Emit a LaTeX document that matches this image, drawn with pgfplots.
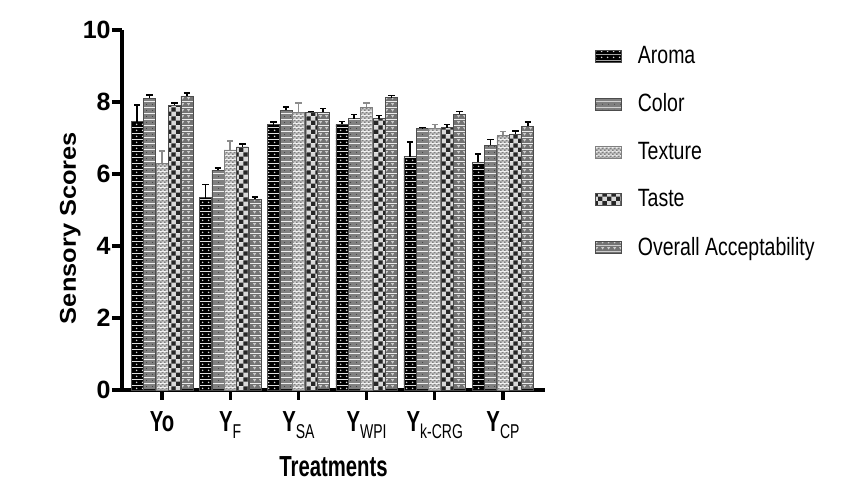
\documentclass[border=0pt]{standalone}
\usepackage{pgfplots}
\pgfplotsset{compat=1.18}
\usepackage{pgfplotstable}
\usepackage{fontspec}
\usetikzlibrary{patterns}
\setmainfont{Liberation Sans}
\newfontfamily\narrowfont{Liberation Sans}[FakeStretch=0.70]
\newfontfamily\legfont{Liberation Sans}[FakeStretch=0.78]

% inherently coloured patterns
\pgfdeclarepatterninherentlycolored{aroma}{\pgfpointorigin}{\pgfpoint{2.8pt}{2.8pt}}{\pgfpoint{2.8pt}{2.8pt}}{%
  \pgfsetfillcolor{black}\pgfpathrectangle{\pgfpointorigin}{\pgfpoint{2.8pt}{2.8pt}}\pgfusepath{fill}%
  \pgfsetfillcolor{white!85!black}\pgfpathcircle{\pgfpoint{1.4pt}{1.4pt}}{0.45pt}\pgfusepath{fill}}
\pgfdeclarepatterninherentlycolored{colorp}{\pgfpointorigin}{\pgfpoint{3pt}{3pt}}{\pgfpoint{3pt}{3pt}}{%
  \pgfsetfillcolor{black!50}\pgfpathrectangle{\pgfpointorigin}{\pgfpoint{3pt}{3pt}}\pgfusepath{fill}%
  \pgfsetfillcolor{black!75}\pgfpathcircle{\pgfpoint{1.5pt}{1.5pt}}{0.3pt}\pgfusepath{fill}}
\pgfdeclarepatterninherentlycolored{texturep}{\pgfpointorigin}{\pgfpoint{2pt}{2pt}}{\pgfpoint{2pt}{2pt}}{%
  \pgfsetfillcolor{black!18}\pgfpathrectangle{\pgfpointorigin}{\pgfpoint{2pt}{2pt}}\pgfusepath{fill}%
  \pgfsetfillcolor{black!50}\pgfpathrectangle{\pgfpointorigin}{\pgfpoint{1pt}{1pt}}\pgfusepath{fill}%
  \pgfpathrectangle{\pgfpoint{1pt}{1pt}}{\pgfpoint{1pt}{1pt}}\pgfusepath{fill}}
\pgfdeclarepatterninherentlycolored{tastep}{\pgfpointorigin}{\pgfpoint{4.4pt}{4.4pt}}{\pgfpoint{4.4pt}{4.4pt}}{%
  \pgfsetfillcolor{black!15}\pgfpathrectangle{\pgfpointorigin}{\pgfpoint{4.4pt}{4.4pt}}\pgfusepath{fill}%
  \pgfsetfillcolor{black!85}\pgfpathrectangle{\pgfpointorigin}{\pgfpoint{2.2pt}{2.2pt}}\pgfusepath{fill}%
  \pgfpathrectangle{\pgfpoint{2.2pt}{2.2pt}}{\pgfpoint{2.2pt}{2.2pt}}\pgfusepath{fill}}
\pgfdeclarepatterninherentlycolored{oap}{\pgfpointorigin}{\pgfpoint{3pt}{3pt}}{\pgfpoint{3pt}{3pt}}{%
  \pgfsetfillcolor{black!55}\pgfpathrectangle{\pgfpointorigin}{\pgfpoint{3pt}{3pt}}\pgfusepath{fill}%
  \pgfsetfillcolor{black!20}\pgfpathmoveto{\pgfpoint{0.6pt}{2.2pt}}\pgfpathlineto{\pgfpoint{2.4pt}{2.2pt}}\pgfpathlineto{\pgfpoint{1.5pt}{0.8pt}}\pgfpathclose\pgfusepath{fill}}

\newcommand{\sbs}[1]{\raisebox{-3.5pt}{\mdseries\fontsize{10pt}{10pt}\selectfont #1}}

\pgfplotstableread{
x y e
0 7.45 0.46
1 5.34 0.37
2 7.37 0.08
3 7.38 0.08
4 6.48 0.41
5 6.33 0.22
}\tabAroma
\pgfplotstableread{
x y e
0 8.11 0.09
1 6.11 0.06
2 7.77 0.09
3 7.54 0.11
4 7.26 0.03
5 6.80 0.16
}\tabColor
\pgfplotstableread{
x y e
0 6.30 0.34
1 6.67 0.25
2 7.71 0.26
3 7.86 0.11
4 7.26 0.11
5 7.08 0.10
}\tabTexture
\pgfplotstableread{
x y e
0 7.91 0.06
1 6.75 0.09
2 7.71 0.03
3 7.54 0.08
4 7.29 0.08
5 7.10 0.10
}\tabTaste
\pgfplotstableread{
x y e
0 8.17 0.08
1 5.30 0.06
2 7.71 0.11
3 8.12 0.06
4 7.66 0.08
5 7.33 0.12
}\tabOA

\begin{document}
\begin{tikzpicture}
\path[use as bounding box] (-61pt,-50.5pt) rectangle (370pt,195pt);
\begin{axis}[
  at={(0,0)}, anchor=south west,
  scale only axis, width=211.5pt, height=180pt,
  xmin=-0.587, xmax=5.616, ymin=0, ymax=10,
  axis lines=left,
  axis line style={-, line width=1.6pt},
  tick align=outside,
  major tick length=5pt,
  tick style={line width=1.6pt, black},
  ytick={0,2,4,6,8,10},
  xtick={0,1,2,3,4,5},
  xticklabels={Yo, Y\sbs{F}, Y\sbs{SA}, Y\sbs{WPI}, Y\sbs{k-CRG}, Y\sbs{CP}},
  /pgf/number format/assume math mode=true,
  yticklabel style={font=\bfseries\fontsize{12.5pt}{13pt}\selectfont, inner sep=0.5pt},
  xticklabel style={font=\narrowfont\bfseries\fontsize{14.5pt}{15pt}\selectfont, yshift=-2pt},
  xlabel={Treatments},
  xlabel style={font=\narrowfont\bfseries\fontsize{14.5pt}{15pt}\selectfont, yshift=-2.5pt},
  ylabel={\scalebox{1}[0.9]{Sensory Scores}},
  ylabel style={font=\bfseries\fontsize{12.7pt}{13pt}\selectfont, at={(ticklabel cs:0.45)}, yshift=-3pt},
  ybar=0.2pt, bar width=6pt,
  legend style={draw=none, fill=none, at={(1.118,0.968)}, anchor=north west,
    font=\legfont\fontsize{12.5pt}{13pt}\selectfont, row sep=9.7pt, inner sep=0pt},
  legend cell align=left,
  legend image code/.code={\draw[#1, line width=0.3pt] (0pt,-3pt) rectangle (13pt,3pt);},
  /tikz/every odd column/.append style={column sep=6pt},
  clip=false,
]
\addplot[draw=black!70, line width=0.3pt, pattern=aroma,
  error bars/.cd, y dir=plus, y explicit,
  error bar style={line width=0.8pt, black},
  error mark options={rotate=90, mark size=1.6pt, line width=0.8pt, black}]
  table[x=x, y=y, y error=e] {\tabAroma};
\addplot[draw=black!70, line width=0.3pt, pattern=colorp,
  error bars/.cd, y dir=plus, y explicit,
  error bar style={line width=0.8pt, black},
  error mark options={rotate=90, mark size=1.6pt, line width=0.8pt, black}]
  table[x=x, y=y, y error=e] {\tabColor};
\addplot[draw=black!50, line width=0.3pt, pattern=texturep,
  error bars/.cd, y dir=plus, y explicit,
  error bar style={line width=0.8pt, black!45},
  error mark options={rotate=90, mark size=1.6pt, line width=0.8pt, black!45}]
  table[x=x, y=y, y error=e] {\tabTexture};
\addplot[draw=black!70, line width=0.3pt, pattern=tastep,
  error bars/.cd, y dir=plus, y explicit,
  error bar style={line width=0.8pt, black},
  error mark options={rotate=90, mark size=1.6pt, line width=0.8pt, black}]
  table[x=x, y=y, y error=e] {\tabTaste};
\addplot[draw=black!70, line width=0.3pt, pattern=oap,
  error bars/.cd, y dir=plus, y explicit,
  error bar style={line width=0.8pt, black},
  error mark options={rotate=90, mark size=1.6pt, line width=0.8pt, black}]
  table[x=x, y=y, y error=e] {\tabOA};
\legend{Aroma, Color, Texture, Taste, Overall Acceptability}
\end{axis}
\end{tikzpicture}
\end{document}
